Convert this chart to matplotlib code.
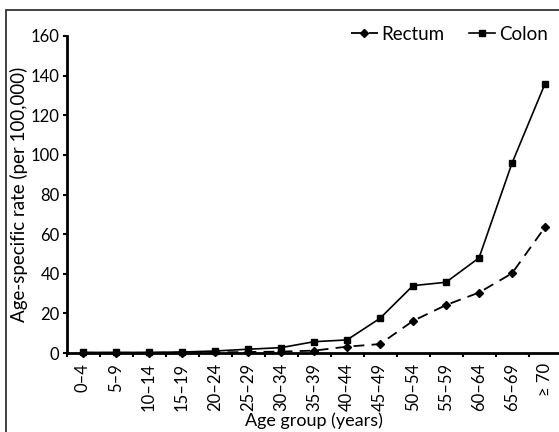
import matplotlib
matplotlib.use("Agg")
import matplotlib.pyplot as plt
from matplotlib.patches import Rectangle
import numpy as np

plt.rcParams['font.family'] = ['Lato', 'DejaVu Sans']

age_groups = ['0–4', '5–9', '10–14', '15–19', '20–24', '25–29', '30–34',
              '35–39', '40–44', '45–49', '50–54', '55–59', '60–64', '65–69', '≥ 70']
colon = [0.3, 0.3, 0.3, 0.5, 1.0, 1.9, 2.7, 5.7, 6.6, 17.5, 34.0, 35.7, 48.0, 95.8, 135.9]
rectum = [0.1, 0.1, 0.1, 0.2, 0.3, 0.5, 0.7, 1.2, 3.2, 4.5, 16.2, 24.2, 30.5, 40.2, 63.5]

fig = plt.figure(figsize=(5.59, 4.32), dpi=100)
# outer frame of the figure panel
fig.patches.append(Rectangle((6 / 559, -0.1), 1.2, 1 - 10 / 432 + 0.1,
                             transform=fig.transFigure, fill=False,
                             edgecolor='#222222', linewidth=1.2))

ax = fig.add_axes([66.5 / 559, 79 / 432, 495 / 559, 317 / 432])
x = np.arange(len(age_groups))

ax.plot(x, rectum, color='black', linestyle=(0, (6, 4)), linewidth=1.3,
        marker='D', markersize=4, label='Rectum', clip_on=False, zorder=3)
ax.plot(x, colon, color='black', linestyle='-', linewidth=1.2,
        marker='s', markersize=5, label='Colon', clip_on=False, zorder=4)

ax.set_xlim(-0.5, len(age_groups) - 0.5)
ax.set_ylim(0, 160)
ax.set_yticks(range(0, 161, 20))

ax.set_xticks(x)
ax.set_xticklabels(age_groups, rotation=90, fontsize=12)
ax.set_xticks(np.arange(-0.5, len(age_groups), 1), minor=True)
ax.tick_params(axis='x', which='major', length=0, pad=7)
ax.tick_params(axis='x', which='minor', length=3, width=1.5, direction='out')
ax.tick_params(axis='y', length=3, width=1.5, direction='out', labelsize=12, pad=2)

for s in ['top', 'right']:
    ax.spines[s].set_visible(False)
ax.spines['left'].set_linewidth(2)
ax.spines['bottom'].set_linewidth(2)

ax.set_xlabel('Age group (years)', fontsize=13, labelpad=1)
ax.set_ylabel('Age-specific rate (per 100,000)', fontsize=13.5, labelpad=2)

fig.legend(loc='upper right', bbox_to_anchor=(1.01, 0.98), ncol=2, frameon=False,
           fontsize=13.5, handlelength=1.4, handletextpad=0.2, columnspacing=1.3)

fig.savefig('out.png', dpi=100)
